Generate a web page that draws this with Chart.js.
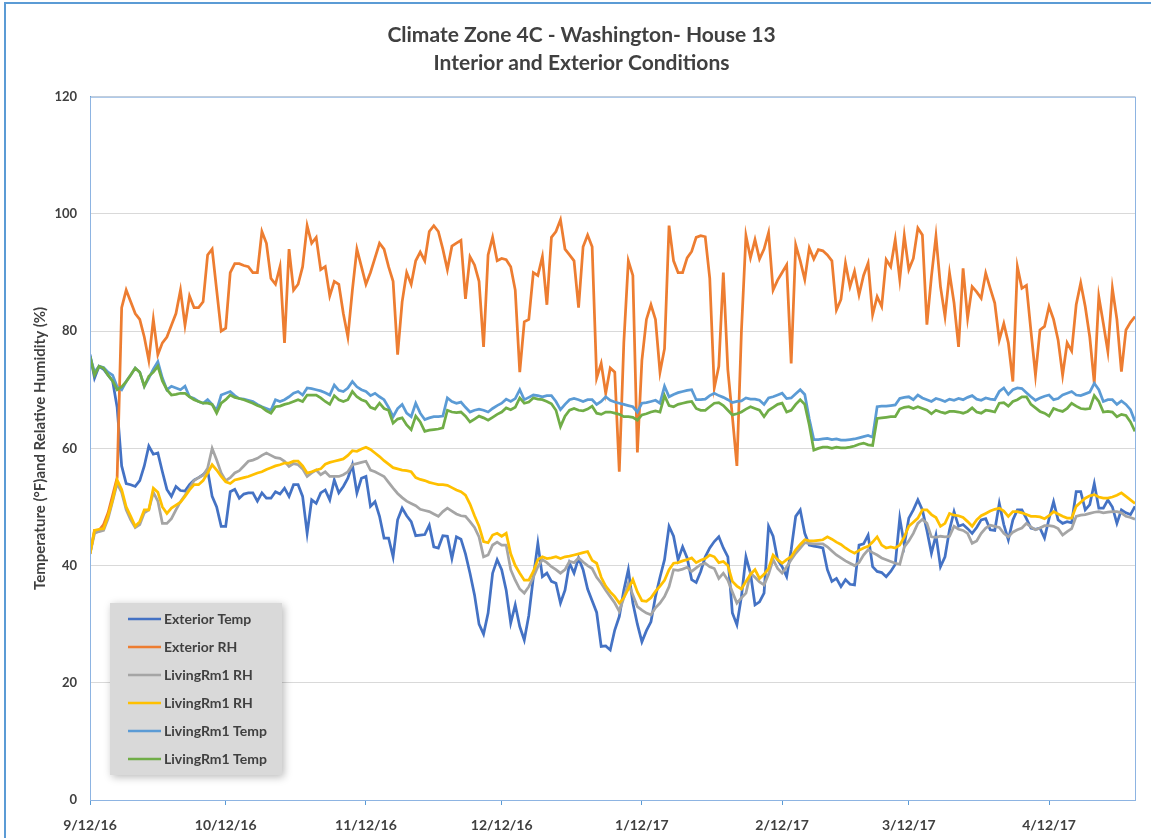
<!DOCTYPE html>
<html>
<head>
<meta charset="utf-8">
<title>Climate Zone 4C - Washington- House 13</title>
<script src="https://cdn.jsdelivr.net/npm/chart.js@4.4.0/dist/chart.umd.min.js"></script>
<style>
  html, body { margin: 0; padding: 0; background: #ffffff; }
  #wrap { width: 1151px; height: 838px; position: relative; }
</style>
</head>
<body>
<div id="wrap"><canvas id="myChart"></canvas></div>
<script>
// daily readings, first day is 9/12/16
var startDay = [2016, 8, 12];
var monthTicks = [0, 30, 61, 91, 122, 153, 181, 212];
var yTicks = [0, 20, 40, 60, 80, 100, 120];

var seriesNames = ["Exterior Temp", "Exterior RH", "LivingRm1 RH", "LivingRm1 RH", "LivingRm1 Temp", "LivingRm1 Temp"];

var extTemp = [
  76, 72, 74, 73.5, 72.5, 71.5, 67, 57, 54, 53.8,
  53.5, 54.5, 57, 60.4, 59, 59.2, 56, 53, 51.8, 53.5,
  52.8, 52.7, 53.8, 54.6, 55, 55.5, 56.3, 51.8, 50, 46.7,
  46.7, 52.6, 53, 51.5, 52.2, 52.4, 52.4, 51, 52.4, 51.5,
  51.5, 52.6, 52.2, 53.2, 51.8, 53.8, 53.8, 51.8, 45.5, 51.2,
  50.6, 52.4, 52.9, 51.2, 54.6, 52.4, 53.5, 54.9, 57.2, 52.4,
  54.9, 55.2, 50.1, 50.9, 48.4, 44.7, 44.7, 41.5, 47.8, 49.8,
  48.5, 47.5, 45.1, 45.2, 45.3, 46.9, 43.2, 43, 45.1, 45,
  41.2, 44.9, 44.5, 42, 38.7, 35, 30, 28.3, 31.9, 38.7,
  41, 39.3, 35.8, 30.2, 33.3, 29.6, 27.3, 31.5, 38, 43.8,
  38.1, 38.7, 37.3, 37, 33.6, 35.8, 40.4, 38.7, 41.3, 39.3,
  36, 34, 32, 26.2, 26.3, 25.6, 29, 31.3, 35.8, 39.3,
  33.6, 30, 27, 28.9, 30.4, 34.7, 38, 41, 46.7, 45,
  41, 43.2, 41.3, 37.6, 37.1, 39, 41.5, 43, 44.1, 44.9,
  43, 41.5, 31.9, 29.9, 34.7, 41.5, 38.7, 33.3, 33.8, 35.3,
  46.7, 45, 41, 39.8, 38.1, 42.7, 48.4, 49.5, 45.5, 43.5,
  43.3, 43.2, 43, 39.3, 37.3, 37.8, 36.4, 37.6, 36.8, 36.7,
  43.5, 43.7, 45.2, 39.8, 39, 38.8, 38.1, 39, 40.2, 48.1,
  43.5, 48.1, 49.5, 51.2, 49.5, 46, 42.1, 45.2, 39.8, 41.5,
  46.1, 49.2, 46.7, 47, 46.3, 45.5, 46.5, 47.8, 48, 46.1,
  46, 50.6, 47, 44.4, 47.8, 49.5, 49.5, 48, 46.4, 46.2,
  46.4, 44.7, 48, 50.9, 47.8, 47.2, 47.5, 47.3, 52.6, 52.6,
  49.5, 50.4, 54, 49.8, 49.8, 51.2, 50, 47.2, 49.5, 49,
  48.7, 50.1
];

var extRH = [
  42, 46, 46, 47, 49, 52, 55, 84, 87, 85,
  83, 82, 79, 75, 82, 76, 78, 79, 81, 83,
  87, 81, 86, 84, 84, 85, 93, 94, 87, 80,
  80.5, 90, 91.5, 91.5, 91.2, 91, 90, 90, 97, 95,
  89, 88, 91, 78, 94, 87, 88, 91, 98, 95,
  96, 90.5, 91, 86, 88.5, 88, 83, 79, 87, 94,
  91, 88, 90, 92.5, 95, 94, 91, 88.5, 76, 85,
  90, 88, 92, 93.5, 92, 97, 98, 97, 94, 90.5,
  94.5, 95, 95.5, 85.5, 92.7, 91.3, 88.5, 77.3, 93, 96,
  92, 92.4, 92.2, 91, 87, 73, 81.6, 82, 90, 89.5,
  92.7, 84.5, 96, 97, 99, 94, 93, 92, 84, 94.4,
  96.4, 94.4, 72, 74.5, 69.4, 73.7, 73, 56, 78, 92,
  89.5, 59.3, 75, 82, 84.5, 82, 73, 77, 98, 92,
  90, 90, 92.5, 93.6, 96, 96.3, 96.1, 89, 70.3, 74,
  90, 73.4, 65.4, 57, 80, 96.3, 92.5, 95.6, 92.3, 94,
  96.8, 87, 88.7, 90, 91.3, 74.5, 94.7, 92, 88.8, 94.2,
  92.3, 93.9, 93.7, 93, 92, 83.6, 85.4, 91.6, 87.6, 90.2,
  86.2, 89.5, 91.6, 82.8, 85.9, 84.2, 92.2, 91, 95.6, 88.8,
  96.3, 90.5, 92.4, 97.6, 96.4, 81.1, 89.3, 96.2, 87.6, 82.5,
  89.9, 84.8, 77.3, 90.7, 82.2, 87.6, 86.7, 85.6, 89.9, 87.3,
  84.8, 78.5, 81.3, 78, 71.4, 91, 87.3, 87.8, 80, 72.5,
  80.2, 80.8, 84.2, 82, 78.5, 72.5, 78, 76.6, 84.5, 88.2,
  84.2, 79, 71.1, 85.9, 81.3, 76.5, 87.3, 82, 73.1, 80.2,
  81.5, 82.5
];

var livingRH1 = [
  42, 45.5, 45.8, 46, 48, 51, 54, 52.5, 49.5, 47.8,
  46.5, 47, 49, 49.5, 52.5, 51, 47.2, 47.2, 48, 49.5,
  50.9, 52, 53.2, 54.5, 55, 55.4, 56.6, 60, 58, 55.8,
  54.5, 55, 55.8, 56.2, 57, 57.8, 58, 58.3, 58.8, 59.2,
  58.8, 58.4, 58.3, 57.8, 56.9, 57.4, 57.2, 56.5, 55.2, 55.8,
  56.3, 55.5, 56, 55.2, 55.2, 55.2, 55.5, 56, 57.2, 57.4,
  57.6, 57.8, 56.3, 56, 55.6, 55.2, 54.2, 53.2, 52.3, 51.6,
  51, 50.6, 50.2, 49.6, 49.4, 49.2, 48.8, 48.4, 49.2, 49.8,
  49.3, 48.8, 48.5, 48.4, 47.5, 46.5, 44.9, 41.5, 41.8, 43.5,
  44, 43.5, 43.5, 39.3, 37.5, 36, 35.3, 36.4, 38, 39.8,
  41, 40.5, 39.8, 39.3, 38.7, 39.3, 40.7, 40.5, 41.3, 40.6,
  40, 39.5, 38, 37, 35.8, 34.7, 33.6, 32.2, 34.5, 37,
  35, 33, 32.4, 31.9, 31.6, 32.8, 33.6, 34.7, 36.4, 39.3,
  39.2, 39.4, 39.7, 39, 39.6, 40.2, 40.4, 39.8, 39.5, 37.8,
  38.7, 37.5, 35.5, 33.6, 34.5, 35.3, 38.7, 38, 37.2, 36.7,
  38.5, 41, 39.5, 38.7, 39.8, 41, 42.1, 43, 43.9, 43.8,
  43.7, 43.7, 43.7, 43.2, 42.5, 41.8, 41.3, 40.8, 40.4, 40,
  40.5, 41.8, 42.7, 42.2, 41.8, 41.3, 41, 40.7, 40.4, 40.2,
  43.2, 44.2, 45.5, 47.2, 47.9, 47.2, 44.9, 44.8, 45, 44.9,
  45, 46.7, 46.2, 46, 45.5, 43.8, 44.2, 45.5, 46.4, 46.9,
  46.7, 46.5, 45.5, 44.9, 45.7, 46.1, 46.4, 47.2, 46.6, 46.1,
  46.4, 46.8, 46.8, 46.7, 46.3, 45.2, 45.8, 46.3, 48.4, 48.6,
  48.7, 48.9, 49.1, 49.2, 49, 49.1, 49.2, 49.2, 49, 48.4,
  48.2, 47.9
];

var livingRH2 = [
  42, 46, 46.2, 46.3, 48.5, 51.2, 54.6, 53, 50, 48.4,
  46.7, 47.5, 49.5, 49.5, 53.2, 52.5, 50, 48.9, 49.8, 50.3,
  50.8, 51.8, 52.9, 53.8, 53.8, 54.5, 55.8, 57.2, 56.3, 55.2,
  54.3, 54, 54.6, 54.8, 55, 55.2, 55.5, 55.8, 56, 56.4,
  56.7, 57, 57.2, 57.5, 57.5, 57.8, 57.8, 57, 55.8, 56,
  56.3, 56.5, 57.3, 57.6, 57.8, 58, 58.2, 58.8, 59.6, 59.5,
  59.9, 60.2, 59.8, 59.2, 58.6, 57.9, 57.3, 56.7, 56.5, 56.3,
  56.2, 56, 55, 54.7, 54.5, 54.2, 54, 53.8, 53.8, 53.7,
  53.3, 52.9, 52.6, 52, 50.5, 48.5, 46.7, 44.1, 43.9, 45.2,
  45.5, 45, 45.5, 42, 40, 38.7, 37.5, 37.5, 39, 41,
  41.5, 41.2, 41.3, 41.5, 41.2, 41.5, 41.6, 41.8, 42, 42.2,
  42.4, 40.9, 40.4, 38, 36.5, 35.5, 34.7, 33.6, 34.5, 36,
  37.6, 35.5, 34, 33.9, 34.5, 35.6, 36.5, 37.5, 39.3, 40.4,
  40.5, 40.8, 41, 41.3, 40.5, 40.9, 41.2, 41.8, 41.5, 40.5,
  40.7, 40, 37.3, 36.5, 36, 37.3, 38.5, 39.3, 37.8, 38.5,
  39.5, 41.8, 41, 40.4, 41, 41.5, 42.7, 43.6, 44.4, 44.2,
  44.2, 44.3, 44.4, 44.9, 44.5, 44, 43.6, 43, 42.5, 42.1,
  42.6, 43, 43.3, 44, 44.9, 43.5, 43, 43.2, 43, 43.5,
  44.9, 46.7, 47.4, 48.1, 49.5, 49.5, 48.7, 48.2, 46.7, 47.2,
  48.9, 48.6, 48.5, 48.2, 47.5, 46.7, 47.8, 48.5, 48.9, 49.3,
  49.6, 49.8, 49.3, 48.4, 49.2, 49.2, 49, 48.7, 48.4, 48.4,
  48.3, 48, 48.5, 49.2, 48.8, 48.4, 48.1, 48.1, 50.1, 50.8,
  51.5, 51.9, 52.1, 51.7, 51.5, 51.5, 51.7, 52, 52.4, 51.8,
  51.2, 50.6
];

var livingTemp1 = [
  75.7, 73, 74, 73.8, 73, 72.5, 70.5, 70, 71.4, 72.5,
  73.7, 73, 70.6, 72, 73.5, 74.8, 72, 70, 70.6, 70.3,
  70, 70.6, 68.8, 68.5, 68, 67.7, 68.3, 67.5, 66.5, 69.1,
  69.4, 69.7, 69, 68.5, 68.4, 68.2, 68, 67.5, 67.1, 66.8,
  66.5, 68.3, 68, 68.3, 68.8, 69.4, 69.7, 69.1, 70.3, 70.2,
  70, 69.8, 69.5, 69.1, 70.8, 69.9, 69.7, 70.3, 71.4, 70.5,
  70, 69.7, 69, 69.4, 68.8, 68.3, 67, 65.4, 66.8, 67.5,
  66, 65.4, 67.7, 66, 64.9, 65.2, 65.4, 65.4, 65.5, 68.6,
  68, 67.7, 67.9, 67, 66.2, 66.5, 66.7, 66.5, 66.2, 66.8,
  67.3, 67.7, 68.4, 68, 68.5, 70, 68.3, 68.7, 69.1, 69,
  68.8, 69, 69, 68, 66.6, 67.5, 68.3, 68.5, 68.3, 68,
  68.3, 68.3, 67.5, 68, 68.8, 68.2, 67.9, 67.7, 67.5, 67.3,
  67.1, 66.2, 67.7, 67.8, 68, 68.2, 67.7, 70.6, 68.8, 69.2,
  69.5, 69.7, 69.9, 70, 68.3, 68.3, 68.4, 69, 69.4, 69,
  68.7, 68.3, 67.8, 68, 68.1, 68.6, 68.4, 68.4, 68.2, 67.5,
  68.6, 68.8, 69.1, 69.4, 68.5, 68.6, 69.3, 70, 69.2, 65,
  61.5, 61.5, 61.6, 61.7, 61.5, 61.6, 61.4, 61.4, 61.5, 61.6,
  61.8, 62, 62.2, 61.9, 67.1, 67.2, 67.2, 67.3, 67.4, 68.5,
  68.7, 68.8, 68.3, 69.1, 68.6, 68.3, 68, 68.5, 68.3, 68,
  68.4, 68.2, 68.5, 68.3, 68.7, 69, 68.4, 68.2, 68.6, 68.4,
  68.3, 69.7, 70.3, 69.2, 70, 70.3, 70.2, 69.5, 68.8, 68.2,
  68.6, 68.9, 69.1, 68.3, 68.5, 69.1, 69.4, 69.7, 69.1, 69,
  69.3, 69.6, 71.1, 70, 68, 68.3, 68.3, 67.5, 68.1, 67.5,
  66.6, 64.6
];

var livingTemp2 = [
  75.7, 72.5, 74, 73.7, 72.5, 71.5, 70, 70.5, 71.4, 72.5,
  73.7, 73, 70.6, 72.3, 73, 74, 71.5, 70, 69.1, 69.2,
  69.4, 69.4, 68.8, 68.3, 68, 67.7, 67.7, 67.5, 66, 67.7,
  68.3, 69.1, 68.7, 68.5, 68.3, 68, 67.7, 67.3, 67, 66.4,
  66, 67.1, 67.2, 67.5, 67.7, 68, 68.3, 68, 69.1, 69.1,
  69.1, 68.6, 68, 67.5, 69, 68.3, 68, 68.3, 69.7, 68.8,
  68.3, 68, 67, 66.7, 67.7, 66.8, 66.5, 64.3, 65, 65.2,
  64, 63.2, 65.5, 64.5, 62.9, 63.1, 63.2, 63.3, 63.5, 66.5,
  66.2, 66.1, 66.2, 65.5, 64.5, 65, 65.5, 65.2, 64.8, 65.3,
  65.8, 66.2, 66.9, 66.6, 67, 68.6, 67.7, 67.9, 68.6, 68.4,
  68.3, 68, 67.6, 66.5, 63.7, 65.5, 66.5, 66.8, 66.5, 66.4,
  66.7, 67.2, 66, 65.8, 66.2, 66.2, 66, 65.8, 65.4, 65.4,
  65.3, 64.8, 65.7, 65.9, 66.2, 66.4, 66.2, 69, 67.3, 67.1,
  67.5, 67.7, 67.9, 68, 66.8, 66.5, 66.5, 67.1, 67.7, 67.8,
  67.3, 66.5, 65.7, 65.9, 66.2, 66.7, 67.1, 66.8, 66.5, 65.4,
  66.5, 67, 67.5, 67.7, 66.2, 66.5, 67.5, 68.3, 67.5, 64,
  59.7, 60, 60.2, 60.2, 60, 60.2, 60.1, 60.1, 60.2, 60.4,
  60.7, 60.9, 60.6, 60.5, 65.1, 65.2, 65.3, 65.4, 65.4, 66.7,
  67, 67.1, 66.8, 67.1, 66.8, 66.5, 65.9, 66.5, 66.2, 66,
  66.3, 66.3, 66.2, 66, 66.3, 66.9, 66.2, 66, 66.5, 66.4,
  66.2, 67.7, 67.8, 67.2, 68, 68.3, 68.8, 68.8, 67.5, 66.9,
  66.3, 66, 65.5, 66.8, 66.5, 66.3, 66.8, 67.7, 67.2, 66.8,
  66.7, 66.8, 69, 68, 66.2, 66.3, 66.2, 65.4, 65.8, 65.6,
  64.5, 62.9
];

var seriesValues = [extTemp, extRH, livingRH1, livingRH2, livingTemp1, livingTemp2];
var seriesColors = ["#4472C4", "#ED7D31", "#A5A5A5", "#FFC000", "#5B9BD5", "#70AD47"];

var textColor = "#404040";
var fontFamily = "Lato, 'Liberation Sans', sans-serif";

function dayLabel(n){
    var d = new Date(startDay[0], startDay[1], startDay[2] + n);
    return (d.getMonth() + 1) + "/" + d.getDate() + "/" + String(d.getFullYear()).slice(2);
}

function toPoints(values){
    return values.map(function(v, i){ return {x: i, y: v}; });
}

// plot frame, outer border and the boxed legend inside the plot
var chartDecor = {
    id: 'chartDecor',
    beforeDraw: function(chart){
        var ctx = chart.ctx;
        ctx.save();
        ctx.fillStyle = '#ffffff';
        ctx.fillRect(0, 0, chart.width, chart.height);
        ctx.restore();
    },
    afterDraw: function(chart){
        var ctx = chart.ctx;
        var a = chart.chartArea;
        ctx.save();
        ctx.strokeStyle = '#8db4e2';
        ctx.lineWidth = 1;
        ctx.strokeRect(a.left + 0.5, a.top + 0.5, a.right - a.left, a.bottom - a.top);

        ctx.strokeStyle = '#5b9bd5';
        ctx.lineWidth = 2;
        ctx.beginPath();
        ctx.moveTo(5, chart.height);
        ctx.lineTo(5, 3);
        ctx.lineTo(chart.width, 3);
        ctx.stroke();

        // legend
        var lx = a.left + 20, ly = a.bottom - 197, lw = 172, lh = 172;
        ctx.shadowColor = 'rgba(0,0,0,0.28)';
        ctx.shadowBlur = 8;
        ctx.shadowOffsetX = 2;
        ctx.shadowOffsetY = 2;
        ctx.fillStyle = '#d9d9d9';
        ctx.fillRect(lx, ly, lw, lh);
        ctx.shadowColor = 'transparent';

        ctx.font = 'bold 14px ' + fontFamily;
        ctx.textBaseline = 'middle';
        ctx.textAlign = 'left';
        chart.data.datasets.forEach(function(ds, i){
            var y = ly + 16 + i * 28;
            ctx.strokeStyle = ds.borderColor;
            ctx.lineWidth = 2.5;
            ctx.beginPath();
            ctx.moveTo(lx + 18, y);
            ctx.lineTo(lx + 51, y);
            ctx.stroke();
            ctx.fillStyle = textColor;
            ctx.fillText(ds.label, lx + 54, y);
        });
        ctx.restore();
    }
};

function main(){
    var datasets = seriesNames.map(function(name, i){
        return {
            label: name,
            data: toPoints(seriesValues[i]),
            borderColor: seriesColors[i],
            backgroundColor: seriesColors[i],
            borderWidth: 2.75,
            pointRadius: 0,
            tension: 0,
            fill: false,
            order: seriesNames.length - i
        };
    });

    new Chart('myChart', {
        type: 'line',
        data: { datasets: datasets },
        options: {
            responsive: true,
            maintainAspectRatio: false,
            animation: false,
            layout: { padding: { left: 28, right: 16, top: 0, bottom: 0 } },
            plugins: {
                legend: { display: false },
                tooltip: { enabled: false },
                title: {
                    display: true,
                    text: ["Climate Zone 4C - Washington- House 13", "Interior and Exterior Conditions"],
                    color: textColor,
                    font: { family: fontFamily, size: 21, weight: 'bold', lineHeight: 1.35 },
                    padding: { top: 21, bottom: 19 }
                }
            },
            scales: {
                x: {
                    type: 'linear',
                    min: 0,
                    max: extTemp.length - 1,
                    afterBuildTicks: function(scale){
                        scale.ticks = monthTicks.map(function(v){ return {value: v}; });
                    },
                    afterFit: function(scale){ scale.height = 38; },
                    grid: { drawOnChartArea: false, drawTicks: true, tickLength: 5, color: '#5b9bd5' },
                    border: { display: true, color: '#5b9bd5', width: 1 },
                    ticks: {
                        color: textColor,
                        padding: 12,
                        maxRotation: 0,
                        autoSkip: false,
                        font: { family: fontFamily, size: 14, weight: 'bold' },
                        callback: function(v){ return dayLabel(v); }
                    }
                },
                y: {
                    min: 0,
                    max: 120,
                    afterBuildTicks: function(scale){
                        scale.ticks = yTicks.map(function(v){ return {value: v}; });
                    },
                    afterFit: function(scale){ scale.width = 62; },
                    grid: { color: '#d9d9d9', lineWidth: 1, drawTicks: false },
                    border: { display: true, color: '#5b9bd5', width: 1 },
                    ticks: {
                        color: textColor,
                        padding: 13,
                        font: { family: fontFamily, size: 13, weight: 'bold' }
                    },
                    title: {
                        display: true,
                        text: 'Temperature (°F)and Relative Humidity (%)',
                        color: textColor,
                        font: { family: fontFamily, size: 15, weight: 'bold' },
                        padding: { top: 3, bottom: 0 }
                    }
                }
            }
        },
        plugins: [chartDecor]
    });
}
main();
</script>
</body>
</html>
